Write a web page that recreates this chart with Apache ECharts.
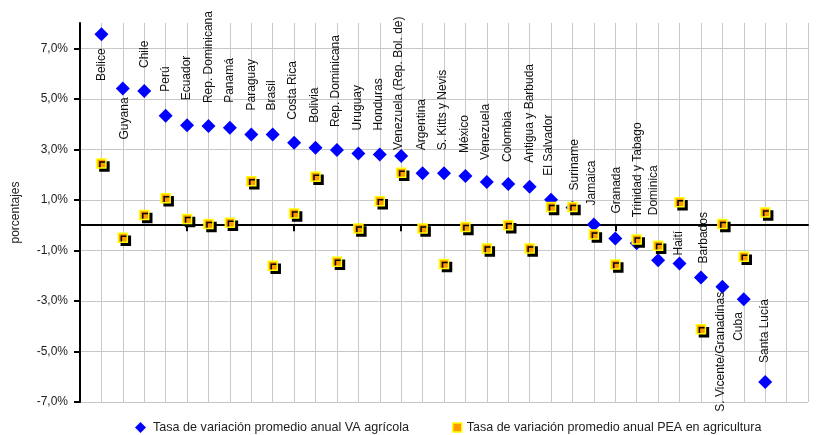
<!DOCTYPE html>
<html>
<head>
<meta charset="utf-8">
<script src="https://cdn.jsdelivr.net/npm/echarts@6/dist/echarts.min.js"></script>
<style>html,body{margin:0;padding:0;background:#fff}#c{width:820px;height:435px}</style>
</head>
<body>
<div id="c"></div>
<script>
const categories = ['Belice','Guyana','Chile','Perú','Ecuador','Rep. Dominicana','Panamá','Paraguay','Brasil','Costa Rica','Bolivia','Rep. Dominicana','Uruguay','Honduras','Venezuela (Rep. Bol. de)','Argentina','S. Kitts y Nevis','México','Venezuela','Colombia','Antigua y Barbuda','El Salvador','Suriname','Jamaica','Granada','Trinidad y Tabago','Dominica','Haití','Barbados','S. Vicente/Granadinas','Cuba','Santa Lucía'];
const vaValues = [7.55,5.41,5.31,4.33,3.95,3.92,3.85,3.59,3.59,3.26,3.06,2.97,2.84,2.80,2.74,2.05,2.05,1.94,1.71,1.63,1.52,1.00,0.70,0.03,-0.53,-0.72,-1.39,-1.52,-2.07,-2.44,-2.93,-6.21];
const peaValues = [2.44,-0.50,0.40,1.06,0.24,0.04,0.09,1.74,-1.61,0.46,1.91,-1.45,-0.13,0.95,2.07,-0.13,-1.54,-0.07,-0.92,0.00,-0.92,0.72,0.72,-0.37,-1.56,-0.57,-0.82,0.91,-4.12,0.04,-1.25,0.50];
const yTickLabels = ['-7,0%','-5,0%','-3,0%','-1,0%','1,0%','3,0%','5,0%','7,0%'];
const xTickValues = [5,10,15,20,25,30];
const seriesNames = ['Tasa de variación promedio anual VA agrícola','Tasa de variación promedio anual PEA en agricultura'];
const yTitle = 'porcentajes';

// label placement style: [side ('a' above / 'b' below), gap from point centre, x shift]
const labelPlacement = [['b',14,0],['b',9,2],['a',23,0],['a',24,0],['a',25,0],['a',23,0],['a',25,0],['a',24,0],['a',24,-1],['a',23,-1],['a',25,-1],['a',23,-1],['a',23,-1],['a',24,-1],['a',6,-2],['a',23,-1],['a',23,-1],['a',23,-1],['a',22,-1],['a',22,-1],['a',24,0],['a',24,-2],['a',17,2],['a',19,-2],['a',25,1],['a',26,1],['a',45,-4],['a',8,-1],['a',14,3],['b',5,-2],['b',13,-5],['a',19,0]];

const FONT = 'Liberation Sans, Arial, sans-serif';
const DS = 14, half = DS / 2;

const vaData = vaValues.map((v, i) => {
  const p = labelPlacement[i];
  const above = p[0] === 'a';
  return {
    value: [i + 1, v],
    label: {
      position: [half + p[2], above ? half - p[1] : half + p[1]],
      align: above ? 'left' : 'right',
      verticalAlign: 'middle'
    }
  };
});
const peaData = peaValues.map((v, i) => [i + 1, v]);

const chart = echarts.init(document.getElementById('c'), null, {renderer: 'canvas'});
chart.setOption({
  animation: false,
  backgroundColor: '#fff',
  textStyle: {fontFamily: FONT},
  grid: [
    {left: 80, right: 12, top: 23, bottom: 33},
    {left: 80, right: 12, top: 48.27, bottom: 33}
  ],
  xAxis: [
    {gridIndex: 0, type: 'value', min: 0, max: 34, interval: 1, position: 'bottom',
     axisLine: {show: true, onZero: true, lineStyle: {color: '#000', width: 2}},
     axisTick: {show: true, customValues: xTickValues, length: 6, inside: false, lineStyle: {color: '#000', width: 2}},
     axisLabel: {show: false},
     splitLine: {show: false}, z: 2},
    {gridIndex: 0, type: 'value', min: 0, max: 34, interval: 1, position: 'top',
     axisLine: {show: false, onZero: false}, axisTick: {show: false}, axisLabel: {show: false},
     splitLine: {show: true, lineStyle: {color: '#c8c8c8', width: 1}}, z: 0},
    {gridIndex: 1, type: 'value', min: 0, max: 34, show: false}
  ],
  yAxis: [
    {gridIndex: 0, type: 'value', min: -7, max: 8, interval: 1,
     axisLine: {show: true, onZero: false, lineStyle: {color: '#000', width: 2}},
     axisTick: {show: false}, axisLabel: {show: false}, splitLine: {show: false},
     name: yTitle, nameLocation: 'middle', nameGap: 58,
     nameTextStyle: {fontSize: 12, color: '#222', fontFamily: FONT}, z: 2},
    {gridIndex: 1, type: 'category', data: yTickLabels, boundaryGap: false,
     axisLine: {show: false},
     axisTick: {show: true, length: 6, inside: false, lineStyle: {color: '#000', width: 2}},
     axisLabel: {show: true, margin: 12, fontSize: 12, color: '#222', fontFamily: FONT},
     splitLine: {show: true, lineStyle: {color: '#c8c8c8', width: 1}}, z: 0}
  ],
  legend: [
    {data: [seriesNames[0]], left: 135, top: 421, padding: 0, icon: 'diamond', itemWidth: 11, itemHeight: 11, itemGap: 5,
     textStyle: {fontSize: 12.6, color: '#222', fontFamily: FONT, padding: [0, 0, 0, 2]},
     itemStyle: {color: '#0000ff', borderWidth: 0, shadowBlur: 0, shadowOffsetX: 0, shadowOffsetY: 0, shadowColor: 'transparent'}},
    {data: [seriesNames[1]], left: 452, top: 421, padding: 0, icon: 'rect', itemWidth: 9, itemHeight: 9, itemGap: 5,
     textStyle: {fontSize: 12.5, color: '#222', fontFamily: FONT},
     itemStyle: {color: '#ff9900', borderColor: '#ffff00', borderWidth: 1.5, shadowBlur: 0, shadowOffsetX: 0, shadowOffsetY: 0, shadowColor: 'transparent'}}
  ],
  series: [
    {name: seriesNames[0], type: 'scatter', xAxisIndex: 0, yAxisIndex: 0,
     symbol: 'diamond', symbolSize: DS,
     itemStyle: {color: '#0000ff', opacity: 1},
     label: {show: true, rotate: 90, fontSize: 12, color: '#111', fontFamily: FONT,
             formatter: p => categories[p.dataIndex]},
     emphasis: {disabled: true},
     data: vaData, z: 3},
    {name: seriesNames[1], type: 'scatter', xAxisIndex: 0, yAxisIndex: 0,
     symbol: 'rect', symbolSize: 9,
     itemStyle: {color: '#ff9900', borderColor: '#ffff00', borderWidth: 1.5, opacity: 1,
                 shadowColor: '#000', shadowBlur: 0, shadowOffsetX: 3, shadowOffsetY: 3},
     emphasis: {disabled: true},
     data: peaData, z: 4}
  ]
});
</script>
</body>
</html>
